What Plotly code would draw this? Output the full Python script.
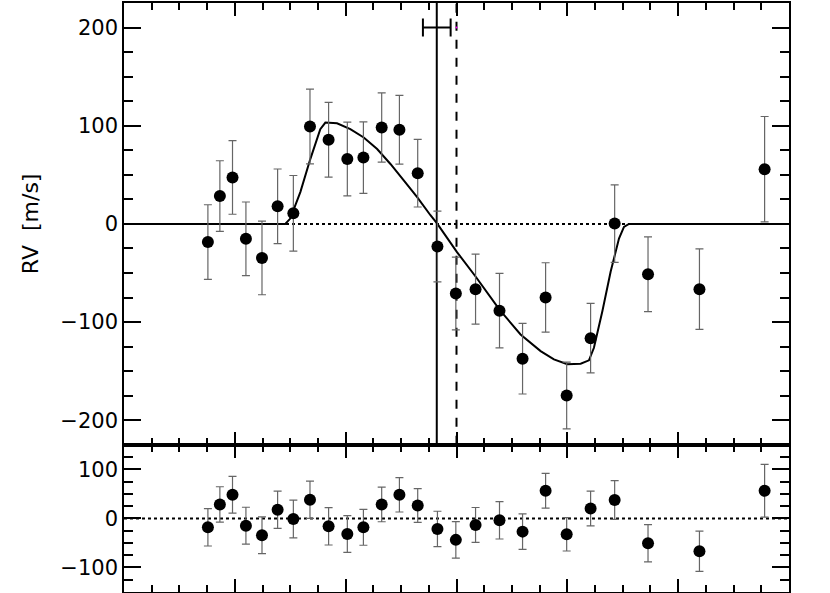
"""
RV during transit (Rossiter-McLaughlin) with residuals, Plotly
"""
import plotly.graph_objects as go
from plotly.subplots import make_subplots

# Temps relatif au milieu de transit prédit
time = [-2.243, -2.135, -2.021, -1.900, -1.755, -1.614, -1.472, -1.322, -1.154,
        -0.985, -0.840, -0.675, -0.515, -0.350, -0.172, -0.006, 0.172, 0.388,
        0.596, 0.804, 0.994, 1.210, 1.427, 1.728, 2.192, 2.780]
rv = [-18.5, 28.3, 47.3, -15.2, -34.7, 17.9, 10.8, 99.2, 85.7, 66.1, 67.5, 98.2,
      95.8, 51.6, -23.0, -70.9, -66.5, -88.4, -137.3, -74.9, -174.8, -116.4,
      0.3, -51.3, -66.5, 55.7]
rv_err = [38, 36, 37.5, 37.5, 37.5, 38, 38.5, 38, 38, 37.5, 36.5, 35.3, 35,
          34.4, 36, 37, 35.6, 38, 36, 35.3, 34, 35.4, 39.5, 38, 41, 53.7]
resid = [-18.3, 28.4, 48.0, -14.8, -34.5, 17.6, -1.3, 37.9, -16.2, -31.7, -18.3,
         28.4, 48.0, 26.4, -21.5, -43.8, -13.4, -4.0, -27.0, 56.2, -32.5, 20.3,
         37.3, -50.7, -66.9, 56.2]

# Modèle RM
model_t = [-3.0, -1.545, -1.500, -1.409, -1.319, -1.229, -1.183, -1.078, -0.958,
           -0.837, -0.716, -0.596, -0.476, -0.355, -0.235, -0.174, 0.006, 0.172,
           0.388, 0.578, 0.759, 0.879, 1.0, 1.12, 1.195, 1.240, 1.316, 1.391,
           1.466, 1.511, 1.556, 3.0]
model_rv = [0, 0, 5.4, 32.4, 66, 96.5, 103.2, 102.5, 96.5, 88, 76.2, 61, 44.2,
            27.3, 8.8, 0.3, -29, -53.6, -87.4, -112.7, -129.6, -138, -143, -142.4,
            -139, -126.2, -89, -48.6, -14.9, -3, 0, 0]

# Milieu de transit mesuré vs prédit
tc_obs = -0.178
tc_err = 0.125
tc_pred = 0.0
tc_y = 200

err_color = '#666666'
font_name = 'DejaVu Sans'

fig = make_subplots(rows=2, cols=1, shared_xaxes=True,
                    vertical_spacing=0, row_heights=[0.75, 0.25])

# Ligne zéro pointillée
for row in (1, 2):
    fig.add_trace(go.Scatter(
        x=[-3, 3], y=[0, 0], mode='lines',
        line=dict(color='black', width=2, dash='dot'),
        showlegend=False, hoverinfo='skip'
    ), row=row, col=1)

# Milieu de transit
fig.add_trace(go.Scatter(
    x=[tc_obs, tc_obs], y=[-225, 225], mode='lines',
    line=dict(color='black', width=2), showlegend=False
), row=1, col=1)
fig.add_trace(go.Scatter(
    x=[tc_pred, tc_pred], y=[-225, 225], mode='lines',
    line=dict(color='black', width=2, dash='dash'), showlegend=False
), row=1, col=1)
fig.add_trace(go.Scatter(
    x=[tc_obs], y=[tc_y], mode='markers',
    marker=dict(size=1, color='rgba(0,0,0,0)'),
    error_x=dict(type='constant', value=tc_err, color='black',
                 thickness=2, width=9),
    showlegend=False
), row=1, col=1)
fig.add_trace(go.Scatter(
    x=[tc_pred], y=[tc_y], mode='markers',
    marker=dict(size=2, color='magenta'), showlegend=False
), row=1, col=1)

# Modèle
fig.add_trace(go.Scatter(
    x=model_t, y=model_rv, mode='lines',
    line=dict(color='black', width=2), showlegend=False
), row=1, col=1)

# Données
fig.add_trace(go.Scatter(
    x=time, y=rv, mode='markers',
    marker=dict(color='black', size=12),
    error_y=dict(type='data', array=rv_err, color=err_color,
                 thickness=1.2, width=4),
    showlegend=False
), row=1, col=1)

# Résidus
fig.add_trace(go.Scatter(
    x=time, y=resid, mode='markers',
    marker=dict(color='black', size=12),
    error_y=dict(type='data', array=rv_err, color=err_color,
                 thickness=1.2, width=4),
    showlegend=False
), row=2, col=1)

axis_common = dict(
    showline=True, linecolor='black', linewidth=1.5, mirror='allticks',
    ticks='inside', tickcolor='black', tickwidth=1.5,
    showgrid=False, zeroline=False
)

for row in (1, 2):
    fig.update_xaxes(
        range=[-3, 3], dtick=1, tick0=0, ticklen=13, showticklabels=False,
        minor=dict(dtick=0.25, tick0=0, ticklen=7, ticks='inside',
                   tickcolor='black', tickwidth=1.5, showgrid=False),
        row=row, col=1, **axis_common
    )

fig.update_yaxes(
    range=[-225, 225], dtick=100, tick0=0, ticklen=17,
    minor=dict(dtick=25, tick0=0, ticklen=9, ticks='inside',
               tickcolor='black', tickwidth=1.5, showgrid=False),
    title=dict(text='RV  [m/s]', font=dict(size=22, color='black'), standoff=16),
    row=1, col=1, **axis_common
)
fig.update_yaxes(
    range=[-150, 150], dtick=100, tick0=0, ticklen=17,
    minor=dict(dtick=25, tick0=0, ticklen=9, ticks='inside',
               tickcolor='black', tickwidth=1.5, showgrid=False),
    row=2, col=1, **axis_common
)

fig.update_layout(
    width=830, height=593,
    margin=dict(l=124, r=41, t=1, b=1),
    plot_bgcolor='white', paper_bgcolor='white',
    font=dict(family=font_name, size=21, color='black'),
    showlegend=False
)

# pas de marge autour de la page
fig.write_html("out.html", config={'displayModeBar': False},
               post_script="document.body.style.margin='0';")
